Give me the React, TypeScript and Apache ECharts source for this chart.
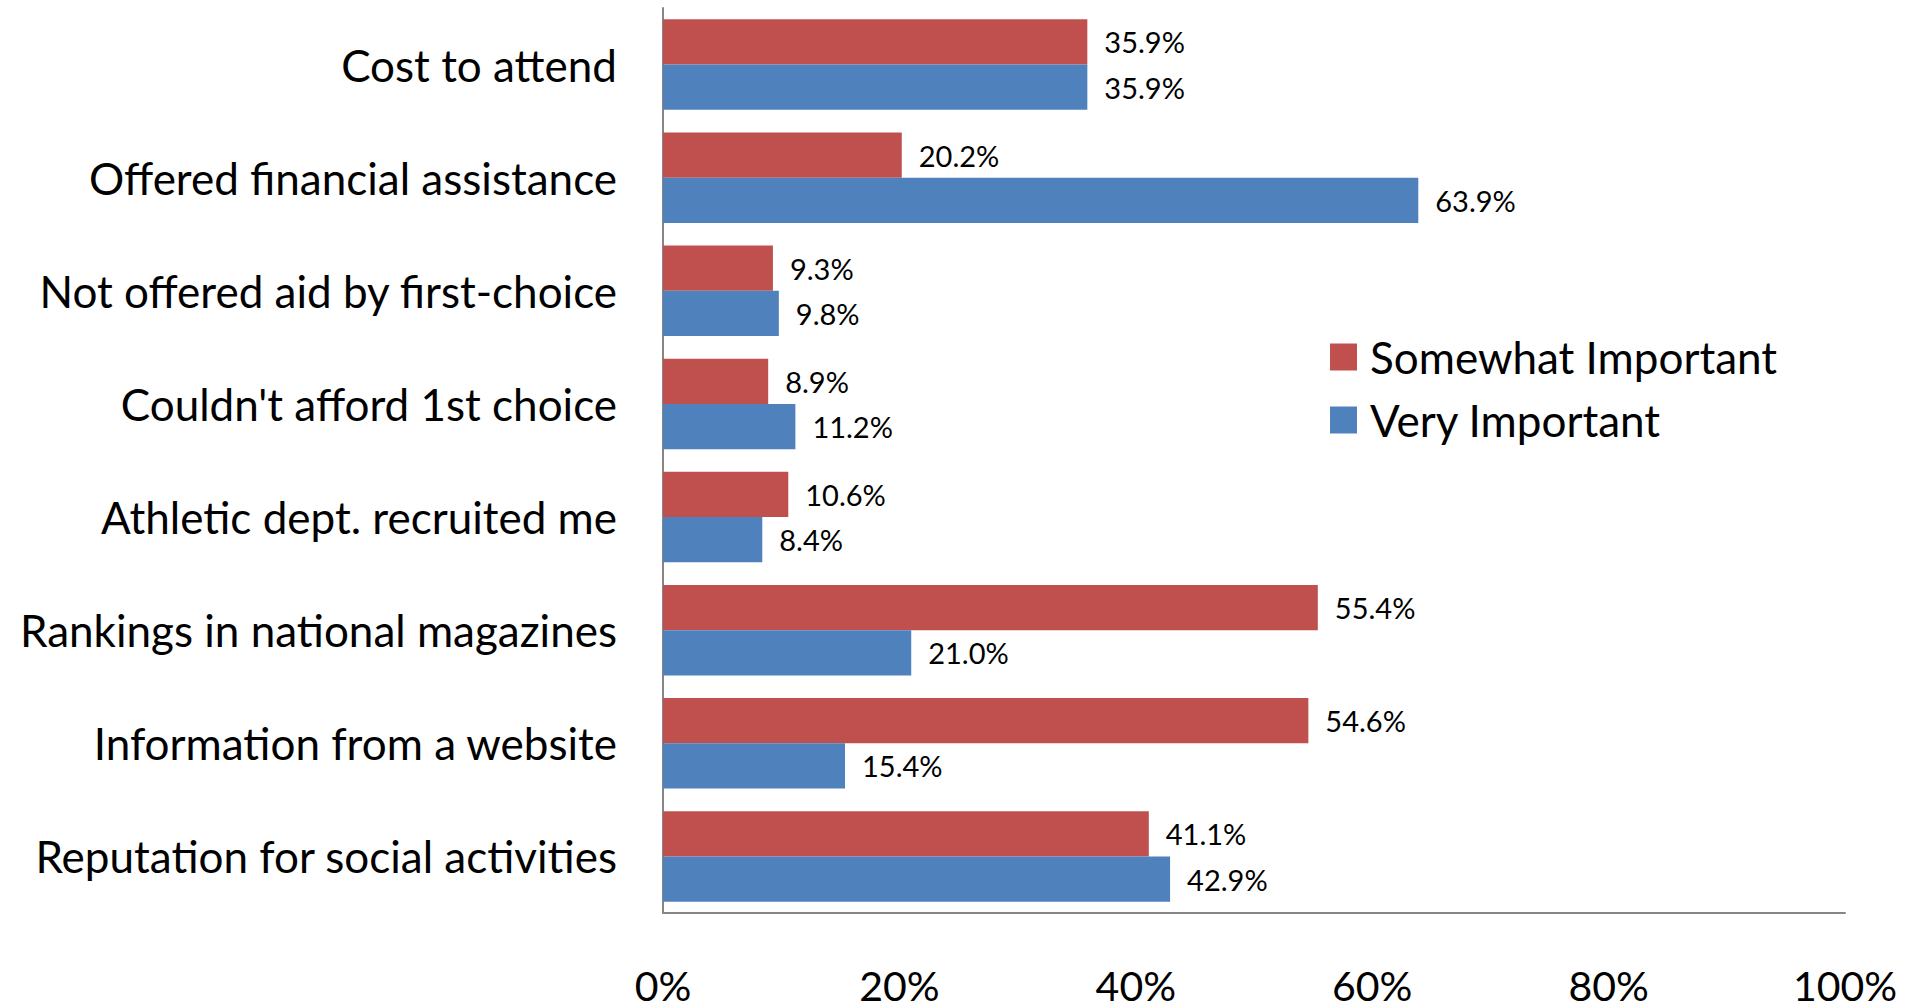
import React, { useEffect, useRef } from "react";
import * as echarts from "echarts";

const categories = [
  "Cost to attend",
  "Offered financial assistance",
  "Not offered aid by first-choice",
  "Couldn't afford 1st choice",
  "Athletic dept. recruited me",
  "Rankings in national magazines",
  "Information from a website",
  "Reputation for social activities",
];
const somewhatImportant = [35.9, 20.2, 9.3, 8.9, 10.6, 55.4, 54.6, 41.1];
const veryImportant = [35.9, 63.9, 9.8, 11.2, 8.4, 21.0, 15.4, 42.9];
const xTicks = [0, 20, 40, 60, 80, 100];

const FONT = "Lato";

export default function App() {
  const ref = useRef<HTMLDivElement>(null);
  useEffect(() => {
    if (!ref.current) return;
    const chart = echarts.init(ref.current, null, { renderer: "svg" });
    const labelCfg = {
      show: true,
      position: "right",
      distance: 17,
      color: "#000",
      fontFamily: FONT,
      fontSize: 29,
      formatter: (p: any) => Number(p.value).toFixed(1) + "%",
    };
    chart.setOption({
      animation: false,
      backgroundColor: "#fff",
      textStyle: { fontFamily: FONT },
      grid: { left: 663, right: 76, top: 8, bottom: 95, containLabel: false },
      legend: {
        orient: "vertical",
        left: 1325,
        top: 330,
        itemWidth: 27,
        itemHeight: 27,
        itemGap: 19,
        icon: "rect",
        data: ["Somewhat Important", "Very Important"],
        textStyle: {
          fontFamily: FONT,
          fontSize: 44,
          lineHeight: 44,
          color: "#000",
          padding: [0, 0, 0, 8],
        },
      },
      xAxis: {
        type: "value",
        min: xTicks[0],
        max: xTicks[xTicks.length - 1],
        interval: 20,
        axisLine: { show: true, lineStyle: { color: "#868686", width: 2 } },
        axisTick: { show: false },
        splitLine: { show: false },
        axisLabel: {
          formatter: (v: number) => v + "%",
          fontFamily: FONT,
          fontSize: 41,
          lineHeight: 40,
          color: "#000",
          margin: 52,
        },
      },
      yAxis: {
        type: "category",
        inverse: true,
        data: categories,
        axisLine: { show: true, lineStyle: { color: "#868686", width: 2 } },
        axisTick: { show: false },
        axisLabel: {
          fontFamily: FONT,
          fontSize: 44,
          color: "#000",
          margin: 46,
          padding: [0, 0, 8, 0],
        },
      },
      series: [
        {
          name: "Somewhat Important",
          type: "bar",
          data: somewhatImportant,
          barGap: "0%",
          barCategoryGap: "20%",
          itemStyle: { color: "#C0504D" },
          label: labelCfg,
        },
        {
          name: "Very Important",
          type: "bar",
          data: veryImportant,
          barGap: "0%",
          barCategoryGap: "20%",
          itemStyle: { color: "#4F81BD" },
          label: labelCfg,
        },
      ],
    });
    return () => chart.dispose();
  }, []);
  return (
    <div
      ref={ref}
      style={{ position: "fixed", left: 0, top: 0, width: 1921, height: 1008 }}
    />
  );
}
